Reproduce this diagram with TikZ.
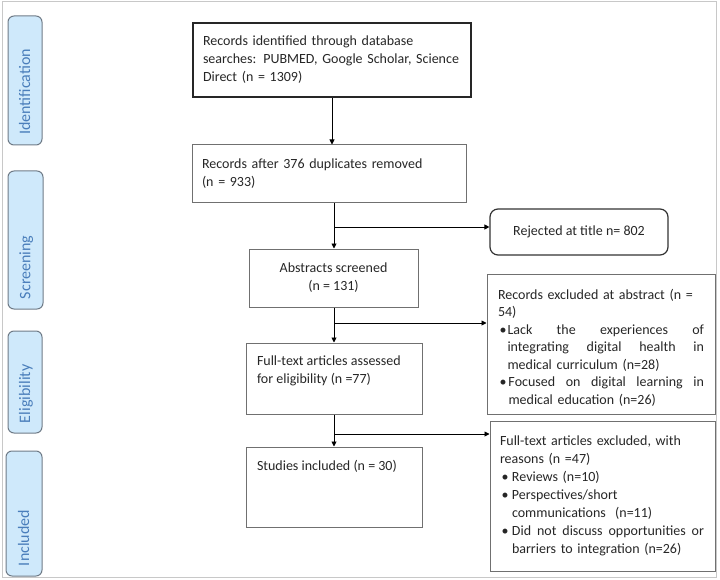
\documentclass[tikz,border=0pt]{standalone}
\usepackage{fontspec}
\setmainfont{Carlito}
\usetikzlibrary{arrows.meta,calc}
\definecolor{boxgray}{HTML}{707070}
\definecolor{lblue}{HTML}{CFE9FB}
\definecolor{lbtext}{HTML}{4A7EBB}
\definecolor{lbborder}{HTML}{6F7B87}
\definecolor{framegray}{HTML}{C8C8C8}
\definecolor{txt}{HTML}{262626}
\newcommand{\mybul}[1]{\makebox[#1][l]{\hspace{1.5pt}\textbullet}}
\newcommand{\myjust}[2]{\makebox[#1][s]{\spaceskip=0pt\xspaceskip=0pt\relax #2}}
\begin{document}
\begin{tikzpicture}[x=1pt,y=-1pt,
 box/.style={draw=boxgray, line width=1pt, rectangle, inner sep=0pt,
   font=\fontsize{14}{18}\selectfont, text=txt},
 side/.style={draw=lbborder, fill=lblue, rounded corners=6pt, line width=1pt,
   rotate=90, font=\fontsize{16}{18}\selectfont, text=lbtext,
   inner xsep=10pt, inner ysep=0pt, align=left, text height=11pt, text depth=1pt},
 arr/.style={-{Triangle[length=5pt,width=5pt]}, line width=0.9pt, draw=black}]
\useasboundingbox (0,0) rectangle (720,580);
\draw[framegray, line width=1pt] (2,2) rectangle (716,577);

% phase labels
\node[side, minimum width=129, minimum height=34, text width=109] (lid) at (25,80.5) {Identification};
\node[side, minimum width=138, minimum height=35, text width=118] (lsc) at (25.5,240) {Screening};
\node[side, minimum width=102, minimum height=34, text width=82] (lel) at (25,382) {Eligibility};
\node[side, minimum width=125, minimum height=36, text width=105] (lin) at (24,513.5) {Included};

% main column
\node[box, draw=black!85, line width=1.4pt, minimum width=278, minimum height=74,
  text width=258, align=left] (id) at (332,60)
  {Records identified through database\\ searches: PUBMED, Google Scholar, Science\\ Direct (n = 1309)};
\node[box, minimum width=274, minimum height=58, text width=254, align=left] (dup) at (329,174)
  {Records after 376 duplicates removed\\ (n = 933)};
\node[box, minimum width=169, minimum height=58, align=center] (abs) at (333.5,278)
  {Abstracts screened\\ (n = 131)};
\node[box, minimum width=176, minimum height=71] (ful) at (334,378.5)
  {\parbox[c][71pt][t]{154pt}{\raggedright\rule{0pt}{22pt}Full-text articles assessed\\ for eligibility (n =77)}};
\node[box, minimum width=176, minimum height=80] (inc) at (334,487)
  {\parbox[c][80pt][t]{154pt}{\raggedright\rule{0pt}{23pt}Studies included (n = 30)}};

% right column
\node[box, draw=black!80, line width=1.2pt, rounded corners=8pt, minimum width=178,
  minimum height=46, align=center] (rej) at (579,232) {Rejected at title n= 802};
\node[box, minimum width=228, minimum height=140, text width=206, align=left,
  font=\fontsize{14}{17.5}\selectfont] (exa) at (601,344)
  {\rule{0pt}{17pt}Records excluded at abstract (n =\\
   54)\\
   \mybul{9.5pt}\myjust{196.5pt}{Lack the experiences of}\\
   \hspace*{9.5pt}\myjust{196.5pt}{integrating digital health in}\\
   \hspace*{9.5pt}medical curriculum (n=28)\\
   \mybul{10.5pt}\myjust{195.5pt}{Focused on digital learning in}\\
   \hspace*{10.5pt}medical education (n=26)};
\node[box, minimum width=225, minimum height=150, text width=205, align=left] (exf) at (602.5,496)
  {Full-text articles excluded, with\\
   reasons (n =47)\\
   \mybul{12pt}Reviews (n=10)\\
   \mybul{12pt}Perspectives/short\\
   \hspace*{12pt}communications~~(n=11)\\
   \mybul{12pt}\myjust{192pt}{Did not discuss opportunities or}\\
   \hspace*{12pt}barriers to integration (n=26)};

% connectors
\coordinate (v0) at (332,0);
\coordinate (b1) at (334,227);
\coordinate (b2) at (334,323);
\coordinate (b3) at (334,434);
\draw[arr] (id.south -| v0) -- (dup.north -| v0);
\draw[arr] (dup.south -| b1) -- (abs.north -| b1);
\draw[arr] (abs.south -| b2) -- (ful.north -| b2);
\draw[arr] (ful.south -| b3) -- (inc.north -| b3);
\draw[arr] (b1) -- (rej.west |- b1);
\draw[arr] (b2) -- (exa.west |- b2);
\draw[arr] (b3) -- (exf.west |- b3);
\end{tikzpicture}
\end{document}
